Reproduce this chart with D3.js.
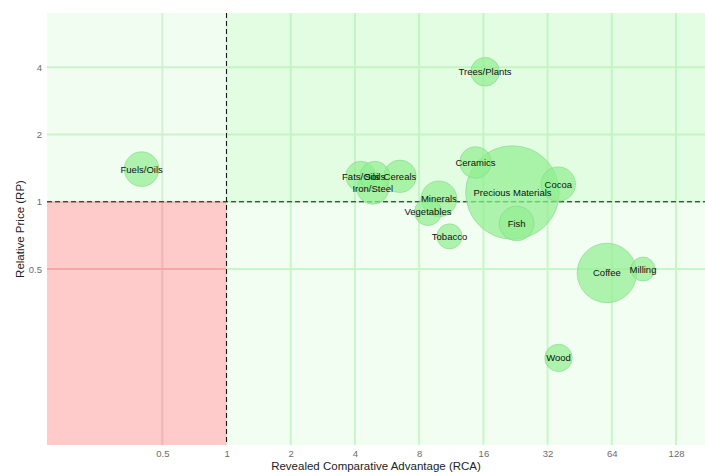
<!DOCTYPE html>
<html>
<head>
<meta charset="utf-8">
<script src="https://cdn.jsdelivr.net/npm/d3@7/dist/d3.min.js"></script>
<style>
  html, body { margin: 0; padding: 0; background: #fff; }
  svg { display: block; font-family: "Liberation Sans", Arial, sans-serif; }
</style>
</head>
<body>
<svg id="chart" width="705" height="473"></svg>
<script>
// Product groups: revealed comparative advantage vs. relative price
const products = ["Fuels/Oils", "Trees/Plants", "Ceramics", "Precious Materials", "Cocoa", "Fish",
  "Tobacco", "Minerals", "Vegetables", "Fats/Oils", "Soils", "Iron/Steel", "Cereals",
  "Coffee", "Milling", "Wood"];
const rca = [0.40, 16.3, 14.7, 21.9, 35.9, 22.9, 11.1, 9.9, 8.8, 4.26, 4.96, 4.85, 6.5, 60.7, 89.6, 36.0];
const rp = [1.40, 3.82, 1.50, 1.10, 1.20, 0.80, 0.70, 1.03, 0.90, 1.30, 1.30, 1.15, 1.30, 0.48, 0.50, 0.20];
const exportShare = [1.36, 0.93, 1.13, 9.9, 1.34, 1.36, 0.71, 1.45, 0.83, 1.02, 1.02, 1.16, 1.2, 4.0, 0.65, 0.85];

const xTicks = [0.5, 1, 2, 4, 8, 16, 32, 64, 128];
const yTicks = [0.5, 1, 2, 4];

const svg = d3.select("#chart");
const plotL = 47, plotR = 705, plotT = 13, plotB = 445;

const x = d3.scaleLog().base(2).domain([0.144, 175]).range([plotL, plotR]);
const y = d3.scaleLog().base(2).domain([0.0815, 7]).range([plotB, plotT]);
const r = d3.scaleSqrt().domain([0, 10]).range([0, 47]);

const x1 = x(1), y1 = y(1);

// Quadrants, each with its own tint and grid colours
const quadrants = [
  { id: "tl", x0: plotL, x1: x1, y0: plotT, y1: y1, fill: "#f1fdf1", vgrid: "#d6edd6", hgrid: "#cbf3cb" },
  { id: "tr", x0: x1, x1: plotR, y0: plotT, y1: y1, fill: "#e3fde3", vgrid: "#c1f5c1", hgrid: "#c1f5c1" },
  { id: "bl", x0: plotL, x1: x1, y0: y1, y1: plotB, fill: "#ffcaca", vgrid: "#f4b3b3", hgrid: "#f6a6a6" },
  { id: "br", x0: x1, x1: plotR, y0: y1, y1: plotB, fill: "#f1fef1", vgrid: "#c6f7c6", hgrid: "#c6f7c6" }
];

const defs = svg.append("defs");
quadrants.forEach(q => {
  defs.append("clipPath").attr("id", "clip-" + q.id)
    .append("rect").attr("x", q.x0).attr("y", q.y0)
    .attr("width", q.x1 - q.x0).attr("height", q.y1 - q.y0);
});

const bg = svg.append("g");
quadrants.forEach(q => {
  bg.append("rect").attr("x", q.x0).attr("y", q.y0)
    .attr("width", q.x1 - q.x0).attr("height", q.y1 - q.y0).attr("fill", q.fill);
  const g = bg.append("g").attr("clip-path", "url(#clip-" + q.id + ")");
  g.selectAll(".v").data(xTicks).join("line")
    .attr("x1", d => x(d)).attr("x2", d => x(d))
    .attr("y1", plotT).attr("y2", plotB)
    .attr("stroke", q.vgrid).attr("stroke-width", 2);
  g.selectAll(".h").data(yTicks).join("line")
    .attr("x1", plotL).attr("x2", plotR)
    .attr("y1", d => y(d)).attr("y2", d => y(d))
    .attr("stroke", q.hgrid).attr("stroke-width", 2);
});

// Reference lines at RCA = 1 and RP = 1
svg.append("line").attr("x1", x1).attr("x2", x1).attr("y1", plotT).attr("y2", plotB)
  .attr("stroke", "#111").attr("stroke-width", 1).attr("stroke-dasharray", "5,3");
svg.append("line").attr("x1", plotL).attr("x2", plotR).attr("y1", y1).attr("y2", y1)
  .attr("stroke", "#111").attr("stroke-width", 1).attr("stroke-dasharray", "5,3");

// Bubbles
const data = products.map((p, i) => ({ name: p, rca: rca[i], rp: rp[i], share: exportShare[i] }));
const sorted = data.slice().sort((a, b) => b.share - a.share);

const bubbles = svg.append("g");
bubbles.selectAll("circle").data(sorted).join("circle")
  .attr("cx", d => x(d.rca)).attr("cy", d => y(d.rp)).attr("r", d => r(d.share))
  .attr("fill", "#90ee90").attr("fill-opacity", 0.7)
  .attr("stroke", "#86d686").attr("stroke-opacity", 0.6).attr("stroke-width", 1);

svg.append("g").selectAll("text").data(sorted).join("text")
  .attr("x", d => x(d.rca)).attr("y", d => y(d.rp))
  .attr("text-anchor", "middle").attr("dominant-baseline", "central")
  .attr("font-size", 9.5).attr("fill", "#111")
  .text(d => d.name);

// Axes
const fmt = d => String(d);
const xAxis = svg.append("g").attr("transform", `translate(0,${plotB})`)
  .call(d3.axisBottom(x).tickValues(xTicks).tickFormat(fmt).tickSize(0).tickPadding(5));
xAxis.select(".domain").remove();
xAxis.selectAll("text").attr("font-size", 9.5).attr("fill", "#6b6b6b").attr("font-family", null);

const yAxis = svg.append("g").attr("transform", `translate(${plotL},0)`)
  .call(d3.axisLeft(y).tickValues(yTicks).tickFormat(fmt).tickSize(0).tickPadding(5));
yAxis.select(".domain").remove();
yAxis.selectAll("text").attr("font-size", 9.5).attr("fill", "#6b6b6b").attr("font-family", null);

svg.append("text").attr("x", (plotL + plotR) / 2).attr("y", 470)
  .attr("text-anchor", "middle").attr("font-size", 11.5).attr("fill", "#222")
  .text("Revealed Comparative Advantage (RCA)");

svg.append("text").attr("transform", `translate(20,${(plotT + plotB) / 2}) rotate(-90)`)
  .attr("text-anchor", "middle").attr("dominant-baseline", "central")
  .attr("font-size", 11.5).attr("fill", "#222")
  .text("Relative Price (RP)");
</script>
</body>
</html>
